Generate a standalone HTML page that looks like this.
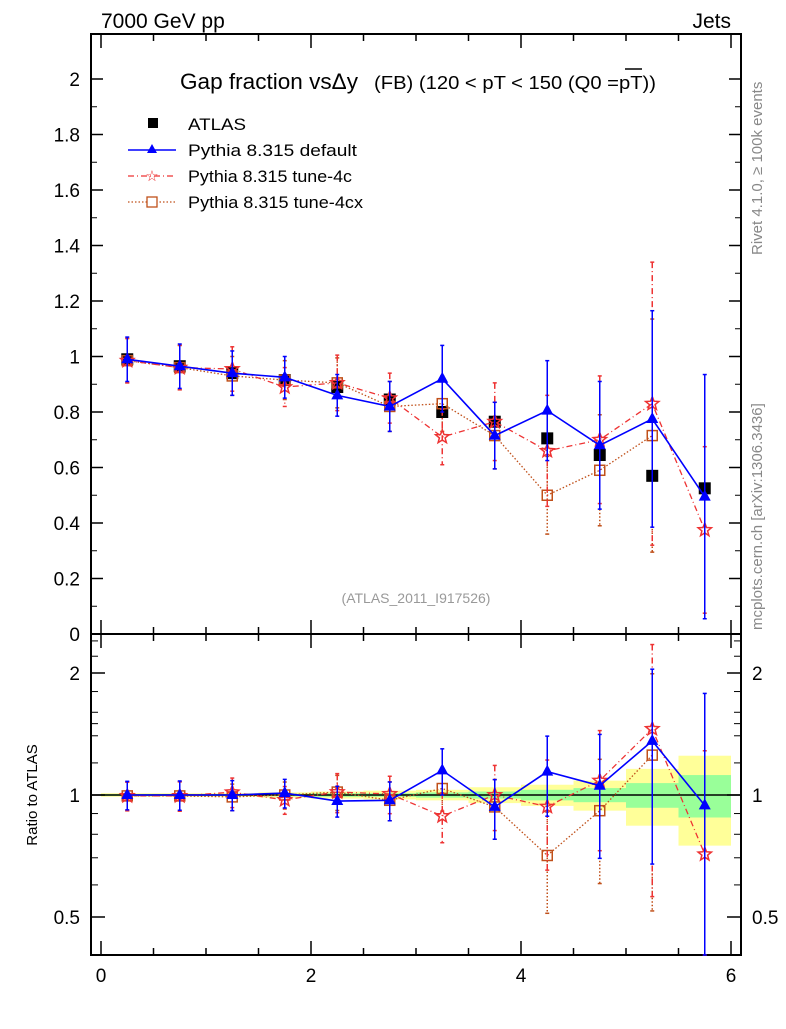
<!DOCTYPE html>
<html><head><meta charset="utf-8"><style>
body{margin:0;background:#fff}
svg text{font-family:"Liberation Sans",Arial,sans-serif}
</style></head><body>
<svg id="chart" width="786" height="1024" xmlns="http://www.w3.org/2000/svg">
<text x="101" y="28" font-size="21">7000 GeV pp</text>
<text x="731" y="28" font-size="21" text-anchor="end">Jets</text>
<text x="0" y="0" font-size="15" fill="#888" transform="translate(762,255) rotate(-90)">Rivet 4.1.0, ≥ 100k events</text>
<text x="0" y="0" font-size="15" fill="#888" transform="translate(762,630) rotate(-90)">mcplots.cern.ch [arXiv:1306.3436]</text>
<text x="0" y="0" font-size="15" transform="translate(37,795) rotate(-90)" text-anchor="middle">Ratio to ATLAS</text>
<text x="180" y="89" font-size="22" textLength="178" lengthAdjust="spacingAndGlyphs">Gap fraction vsΔy</text>
<text x="374" y="89" font-size="18" textLength="282" lengthAdjust="spacingAndGlyphs">(FB) (120 &lt; pT &lt; 150 (Q0 =pT))</text>
<line x1="625" y1="69" x2="642" y2="69" stroke="#000" stroke-width="1.5"/>
<text x="416" y="603" font-size="14" fill="#999" text-anchor="middle">(ATLAS_2011_I917526)</text>
<g id="legend">
<rect x="148" y="118" width="10" height="10" fill="#000"/>
<text x="188" y="130" font-size="17" textLength="58" lengthAdjust="spacingAndGlyphs">ATLAS</text>
<line x1="128" y1="150" x2="176" y2="150" stroke="#00f" stroke-width="1.5"/>
<polygon points="152,144 157,153 147,153" fill="#00f"/>
<text x="188" y="156" font-size="17" textLength="169" lengthAdjust="spacingAndGlyphs">Pythia 8.315 default</text>
<line x1="128" y1="176" x2="176" y2="176" stroke="#e33" stroke-width="1.2" stroke-dasharray="6,3,1,3"/>
<text x="152" y="181" font-size="15" fill="#e33" text-anchor="middle">☆</text>
<text x="188" y="182" font-size="17" textLength="164" lengthAdjust="spacingAndGlyphs">Pythia 8.315 tune-4c</text>
<line x1="128" y1="202" x2="176" y2="202" stroke="#c0501a" stroke-width="1.2" stroke-dasharray="1.5,2"/>
<rect x="147" y="197" width="10" height="10" fill="#fff" stroke="#c0501a" stroke-width="1.3"/>
<text x="188" y="208" font-size="17" textLength="175" lengthAdjust="spacingAndGlyphs">Pythia 8.315 tune-4cx</text>
</g>
<g id="plot"></g>
</svg>
<script>
const xCenters=[0.25,0.75,1.25,1.75,2.25,2.75,3.25,3.75,4.25,4.75,5.25,5.75];
const atlasVals=[0.99,0.965,0.94,0.915,0.89,0.845,0.80,0.765,0.705,0.645,0.57,0.525];
const atlasTotRel=[0.01,0.01,0.01,0.015,0.02,0.025,0.03,0.045,0.06,0.085,0.16,0.25];
const atlasStatRel=[0.005,0.005,0.005,0.007,0.01,0.01,0.015,0.02,0.03,0.04,0.07,0.12];
const defVals=[0.99,0.965,0.94,0.925,0.86,0.82,0.92,0.715,0.805,0.68,0.775,0.495];
const defErr=[0.08,0.08,0.08,0.075,0.075,0.09,0.12,0.12,0.18,0.23,0.39,0.44];
const c4Vals=[0.985,0.96,0.955,0.89,0.905,0.85,0.71,0.765,0.66,0.70,0.83,0.375];
const c4Err=[0.08,0.08,0.08,0.07,0.1,0.09,0.1,0.14,0.2,0.23,0.51,0.3];
const cxVals=[0.985,0.96,0.93,0.915,0.905,0.82,0.83,0.715,0.50,0.59,0.715,null];
const cxErr=[0.08,0.08,0.07,0.07,0.09,0.09,0.1,0.12,0.14,0.2,0.42,null];
const mainTicks=[0,0.2,0.4,0.6,0.8,1,1.2,1.4,1.6,1.8,2];
const mainTickLabels=["0","0.2","0.4","0.6","0.8","1","1.2","1.4","1.6","1.8","2"];
const xTicks=[0,2,4,6];
const ratioTicks=[0.5,1,2];

const L=91,R=741,T=34,MB=634,RB=955;
const X=v=>101+105*v;
const Y=v=>634-277.5*v;
const YR=r=>795-122*Math.log2(r);
const NS="http://www.w3.org/2000/svg";
const g=document.getElementById('plot');
function el(tag,attrs,parent){const e=document.createElementNS(NS,tag);for(const k in attrs)e.setAttribute(k,attrs[k]);(parent||g).appendChild(e);return e;}

for(let i=0;i<xCenters.length;i++){
  const x0=X(xCenters[i]-0.25),x1=X(xCenters[i]+0.25);
  const y=el('rect',{x:x0,y:YR(1+atlasTotRel[i]),width:x1-x0,height:YR(1-atlasTotRel[i])-YR(1+atlasTotRel[i]),fill:'#ffff99'});
  
  
  const gr=el('rect',{x:x0,y:YR(1+atlasStatRel[i]),width:x1-x0,height:YR(1-atlasStatRel[i])-YR(1+atlasStatRel[i]),fill:'#99ff99'});
  
  
}
const one=el('line',{x1:L,x2:R,y1:YR(1),y2:YR(1),stroke:'#000','stroke-width':1.5});



const f1=el('rect',{x:L,y:T,width:R-L,height:MB-T,fill:'none',stroke:'#000','stroke-width':2});


const f2=el('rect',{x:L,y:MB,width:R-L,height:RB-MB,fill:'none',stroke:'#000','stroke-width':2});



for(let i=0;i<mainTicks.length;i++){
  const y=Y(mainTicks[i]);
  el('line',{x1:L,x2:L+12,y1:y,y2:y,stroke:'#000','stroke-width':1.5});
  el('line',{x1:R-12,x2:R,y1:y,y2:y,stroke:'#000','stroke-width':1.5});
  if(i<mainTicks.length-1){const ym=Y(mainTicks[i]+0.1);
    el('line',{x1:L,x2:L+6,y1:ym,y2:ym,stroke:'#000'});el('line',{x1:R-6,x2:R,y1:ym,y2:ym,stroke:'#000'});}
  const t=el('text',{x:80,y:y+7,'font-size':19,'text-anchor':'end'});
  t.textContent=mainTickLabels[i];
  
  
}
for(let v=0;v<=6.01;v+=0.5){
  const x=X(v),major=Math.abs(v-Math.round(v/2)*2)<1e-6,len=major?14:7;
  [T,MB,RB].forEach(b=>{
    if(b!==T) el('line',{x1:x,x2:x,y1:b,y2:b-len,stroke:'#000','stroke-width':1.5});
    if(b!==RB) el('line',{x1:x,x2:x,y1:b,y2:b+len,stroke:'#000','stroke-width':1.5});
  });
}
xTicks.forEach(v=>{const t=el('text',{x:X(v),y:982,'font-size':19,'text-anchor':'middle'});
  t.textContent=String(v);
  
  });
ratioTicks.forEach(r=>{const y=YR(r);
  el('line',{x1:L,x2:L+14,y1:y,y2:y,stroke:'#000','stroke-width':1.5});
  el('line',{x1:R-14,x2:R,y1:y,y2:y,stroke:'#000','stroke-width':1.5});
  const t=el('text',{x:80,y:y+7,'font-size':19,'text-anchor':'end'});t.textContent=String(r);
  
  
  const t2=el('text',{x:752,y:y+7,'font-size':19});t2.textContent=String(r);
  
  });
[0.6,0.7,0.8,0.9,1.5,1.2,1.4,1.6,1.8,2.2,2.4].forEach(r=>{const y=YR(r);
  el('line',{x1:L,x2:L+7,y1:y,y2:y,stroke:'#000'});el('line',{x1:R-7,x2:R,y1:y,y2:y,stroke:'#000'});});

function marker(type,x,y,color,name){
  let m;
  if(type==='sq') m=el('rect',{x:x-6,y:y-6,width:12,height:12,fill:'#000'});
  else if(type==='tri') m=el('polygon',{points:`${x},${y-7} ${x+6},${y+4} ${x-6},${y+4}`,fill:color});
  else if(type==='osq') m=el('rect',{x:x-5,y:y-5,width:10,height:10,fill:'none',stroke:color,'stroke-width':1.5});
  else {let p=[];for(let k=0;k<10;k++){const a=-Math.PI/2+k*Math.PI/5,r=k%2?3:7;p.push((x+r*Math.cos(a)).toFixed(1)+','+(y+r*Math.sin(a)).toFixed(1));}
    m=el('polygon',{points:p.join(' '),fill:'none',stroke:color,'stroke-width':1.5});}
  
  
}
function series(vals,errs,color,dash,type,name,width){
  [[Y,v=>v,e=>e],[YR,(v,i)=>v/atlasVals[i],(e,i)=>e/atlasVals[i]]].forEach(([yf,tv,te],pi)=>{
    const pts=[];
    vals.forEach((v,i)=>{if(v==null)return;
      const val=tv(v,i),e=te(errs[i],i),x=X(xCenters[i]);
      let y1=yf(val+e),y2=val-e>0.01?yf(val-e):(pi?RB:MB);
      if(pi){y1=Math.max(y1,MB);y2=Math.min(y2,RB);} else {y1=Math.max(y1,T);}
      el('line',{x1:x,x2:x,y1:y1,y2:y2,stroke:color,'stroke-width':1.5,'stroke-dasharray':dash});
      el('line',{x1:x-2,x2:x+2,y1:y1,y2:y1,stroke:color,'stroke-width':1.5});
      el('line',{x1:x-2,x2:x+2,y1:y2,y2:y2,stroke:color,'stroke-width':1.5});
      pts.push(x+','+yf(val));
    });
    const pl=el('polyline',{points:pts.join(' '),fill:'none',stroke:color,'stroke-width':width,'stroke-dasharray':dash});
    
    
    vals.forEach((v,i)=>{if(v!=null)marker(type,X(xCenters[i]),yf(tv(v,i)),color,name+'-point');});
  });
}
atlasVals.forEach((v,i)=>{const x=X(xCenters[i]);
  el('line',{x1:x,x2:x,y1:Y(v*(1+atlasTotRel[i])),y2:Y(v*(1-atlasTotRel[i])),stroke:'#000','stroke-width':1.5});
  marker('sq',x,Y(v),'#000','atlas-point');});
series(cxVals,cxErr,'#c0501a','1.5,2','osq','pythia-tune-4cx',1.3);
series(c4Vals,c4Err,'#e33','6,3,1,3','star','pythia-tune-4c',1.3);
series(defVals,defErr,'#00f','','tri','pythia-default',1.6);
</script>
</body></html>
